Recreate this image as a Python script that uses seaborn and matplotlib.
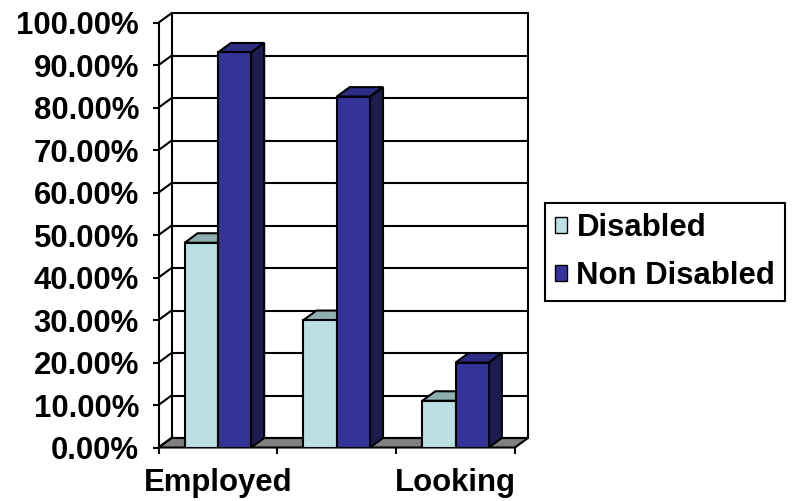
import matplotlib

matplotlib.use("Agg")

import matplotlib.pyplot as plt
import pandas as pd
import seaborn as sns
from matplotlib.colors import to_rgba
from matplotlib.patches import Patch, Polygon


# =========================
# Data
# =========================

categories = ["Employed", "Active", "Looking"]
tick_labels = ["Employed", "", "Looking"]
groups = ["Disabled", "Non Disabled"]
disabled = [48.2, 30.0, 11.0]
non_disabled = [93.0, 82.6, 20.0]
y_ticks = list(range(0, 101, 10))
y_tick_labels = [f"{v:.2f}%" for v in y_ticks]

front_colors = ["#BBE0E3", "#333399"]
top_colors = ["#8FAEAF", "#2C2C84"]
side_colors = ["#7A9597", "#1C1C4E"]

# =========================
# Layout (pixels)
# =========================

DPI = 100
W, H = 797, 501
LEFT, RIGHT, BOTTOM, TOP = 158.5, 515, 447.5, 22.7
DEPTH_X, DEPTH_Y = 13, 9.5
FONT_SIZE = 22.4
LW = 1.5

sns.set_theme(style="white")
plt.rcParams["font.family"] = ["Liberation Sans", "DejaVu Sans"]
plt.rcParams["font.weight"] = "bold"

df = pd.DataFrame(
    {
        "category": categories * 2,
        "group": [groups[0]] * len(categories) + [groups[1]] * len(categories),
        "value": disabled + non_disabled,
    }
)

fig = plt.figure(figsize=(W / DPI, H / DPI), dpi=DPI)
ax = fig.add_axes([LEFT / W, 1 - BOTTOM / H, (RIGHT - LEFT) / W, (BOTTOM - TOP) / H])

sns.barplot(
    data=df,
    x="category",
    y="value",
    hue="group",
    hue_order=groups,
    order=categories,
    palette=front_colors,
    saturation=1,
    width=0.56,
    gap=0,
    errorbar=None,
    edgecolor="black",
    linewidth=LW,
    legend=False,
    zorder=3,
    ax=ax,
)

x_min, x_max = -0.5, len(categories) - 0.5
ax.set_xlim(x_min, x_max)
ax.set_ylim(0, 100)

# depth offset in data units
dx = DEPTH_X * (x_max - x_min) / (RIGHT - LEFT)
dy = DEPTH_Y * 100 / (BOTTOM - TOP)

# Floor
ax.add_patch(
    Polygon(
        [(x_min, 0), (x_max, 0), (x_max + dx, dy), (x_min + dx, dy)],
        closed=True, facecolor="#808080", edgecolor="black", linewidth=LW,
        zorder=1, clip_on=False,
    )
)

# Back wall and side wall gridlines
for v in y_ticks:
    ax.plot([x_min + dx, x_max + dx], [v + dy, v + dy], color="black",
            linewidth=LW, zorder=1.5, clip_on=False)
    ax.plot([x_min, x_min + dx], [v, v + dy], color="black",
            linewidth=LW, zorder=1.5, clip_on=False)
for xv in [x_min + dx, x_max + dx]:
    ax.plot([xv, xv], [dy, 100 + dy], color="black", linewidth=LW,
            zorder=1.5, clip_on=False)

# 3D faces of the bars
for bar in list(ax.patches):
    if not hasattr(bar, "get_width"):
        continue
    fc = bar.get_facecolor()
    idx = [i for i, c in enumerate(front_colors)
           if max(abs(a - b) for a, b in zip(to_rgba(c), fc)) < 0.01]
    if not idx:
        continue
    i = idx[0]
    x0 = bar.get_x()
    x1 = x0 + bar.get_width()
    h = bar.get_height()
    ax.add_patch(
        Polygon([(x0, h), (x1, h), (x1 + dx, h + dy), (x0 + dx, h + dy)],
                closed=True, facecolor=top_colors[i], edgecolor="black",
                linewidth=LW, zorder=2.5, clip_on=False)
    )
    ax.add_patch(
        Polygon([(x1, 0), (x1, h), (x1 + dx, h + dy), (x1 + dx, dy)],
                closed=True, facecolor=side_colors[i], edgecolor="black",
                linewidth=LW, zorder=2.5, clip_on=False)
    )

# Axes styling
for name, spine in ax.spines.items():
    spine.set_visible(name == "left")
    spine.set_color("black")
    spine.set_linewidth(LW)
    spine.set_zorder(4)

ax.set_yticks(y_ticks, y_tick_labels)
ax.set_xticks(range(len(categories)), tick_labels)
ax.set_xticks([x_min, 0.5, 1.5, 2.5], minor=True)
ax.set_xlabel("")
ax.set_ylabel("")
ax.tick_params(axis="y", which="major", left=True, direction="out", length=4,
               width=LW, color="black", pad=10, labelsize=FONT_SIZE,
               labelcolor="black")
ax.tick_params(axis="x", which="major", bottom=True, length=0, pad=15,
               labelsize=FONT_SIZE, labelcolor="black")
ax.tick_params(axis="x", which="minor", bottom=True, direction="out", length=4,
               width=LW, color="black")
ax.patch.set_alpha(0)

# Legend
handles = [Patch(facecolor=c, edgecolor="black", linewidth=1) for c in front_colors]
leg = fig.legend(
    handles, groups,
    loc="center left",
    bbox_to_anchor=(545 / W, 1 - 252 / H),
    frameon=True, fancybox=False, shadow=False, framealpha=1,
    edgecolor="black", fontsize=FONT_SIZE,
    handlelength=0.4, handleheight=0.4, handletextpad=0.3,
    labelspacing=0.58, borderpad=0.31, borderaxespad=0,
)
leg.get_frame().set_linewidth(LW)
for t in leg.get_texts():
    t.set_color("black")

fig.savefig("out.png", dpi=DPI)
